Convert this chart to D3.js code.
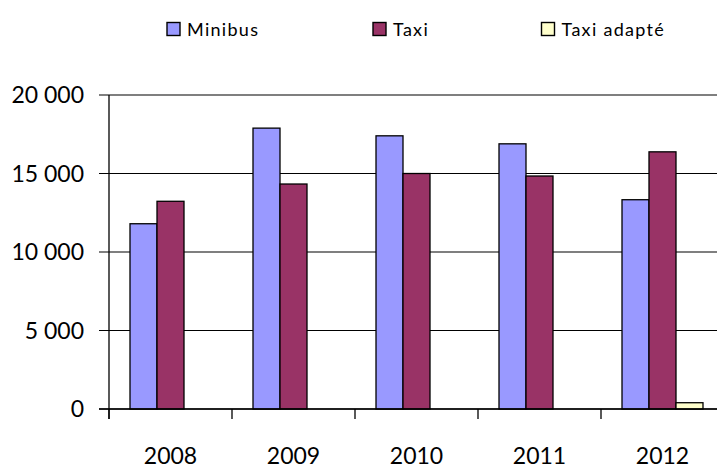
<!DOCTYPE html>
<html><head><meta charset="utf-8">
<script src="https://cdn.jsdelivr.net/npm/d3@7"></script>
<style>html,body{margin:0;padding:0;background:#fff;}svg{display:block;}</style>
</head><body>
<svg id="c" width="717" height="468"></svg>
<script>
const years = ["2008","2009","2010","2011","2012"];
const seriesNames = ["Minibus","Taxi","Taxi adapté"];
const minibus = [11800, 17890, 17400, 16890, 13330];
const taxi = [13230, 14330, 15000, 14840, 16380];
const taxiAdapte = [0, 0, 0, 0, 400];
const yTicks = [0, 5000, 10000, 15000, 20000];
const colors = ["#9999FF", "#993366", "#FFFFCC"];

const values = [minibus, taxi, taxiAdapte];
const svg = d3.select("#c");
const font = "Lato, 'Open Sans', sans-serif";

const x0 = d3.scaleBand().domain(years).range([109, 109 + 5*123]).paddingInner(0).paddingOuter(0);
const x1 = d3.scaleBand().domain(seriesNames).range([0, x0.bandwidth()]).paddingInner(0).paddingOuter(0.778);
const y = d3.scaleLinear().domain([0, 20000]).range([409, 95]);
const fmt = v => d3.format(",")(v).replace(/,/g, " ");

// gridlines
svg.append("g").selectAll("line").data(yTicks).join("line")
  .attr("x1", 99).attr("x2", 717)
  .attr("y1", d => y(d)).attr("y2", d => y(d))
  .attr("stroke", "#000").attr("stroke-width", 1.2);

// y labels
svg.append("g").selectAll("text").data(yTicks).join("text")
  .attr("x", 84).attr("y", d => y(d)).attr("dy", "0.36em")
  .attr("text-anchor", "end").attr("font-family", font).attr("font-size", 23)
  .attr("fill", "#000").text(fmt);

// bars
const g = svg.append("g");
seriesNames.forEach((s, si) => {
  g.append("g").selectAll("rect").data(years.map((yr, i) => ({yr, v: values[si][i]})).filter(d => d.v > 0))
    .join("rect")
    .attr("x", d => x0(d.yr) + x1(s))
    .attr("y", d => y(d.v))
    .attr("width", x1.bandwidth())
    .attr("height", d => y(0) - y(d.v))
    .attr("fill", colors[si]).attr("stroke", "#000").attr("stroke-width", 1.3);
});

// axes lines
svg.append("line").attr("x1", 109).attr("x2", 109).attr("y1", y(20000)).attr("y2", 419)
  .attr("stroke", "#000").attr("stroke-width", 1.3);
svg.append("line").attr("x1", 99).attr("x2", 717).attr("y1", y(0)).attr("y2", y(0))
  .attr("stroke", "#000").attr("stroke-width", 1.3);
// x ticks at category boundaries
svg.append("g").selectAll("line").data(years).join("line")
  .attr("x1", d => x0(d)).attr("x2", d => x0(d))
  .attr("y1", y(0)).attr("y2", 419)
  .attr("stroke", "#000").attr("stroke-width", 1.3);
// x labels
svg.append("g").selectAll("text").data(years).join("text")
  .attr("x", d => x0(d) + x0.bandwidth()/2).attr("y", 456).attr("dy", "0.36em")
  .attr("text-anchor", "middle").attr("font-family", font).attr("font-size", 23)
  .attr("fill", "#000").text(d => d);

// legend
const legX = [167, 373, 541.5];
const leg = svg.append("g");
seriesNames.forEach((s, i) => {
  leg.append("rect").attr("x", legX[i]).attr("y", 22.5).attr("width", 13).attr("height", 13)
    .attr("fill", colors[i]).attr("stroke", "#000").attr("stroke-width", 1.4);
  leg.append("text").attr("x", legX[i] + 20).attr("y", 35.5)
    .attr("font-family", font).attr("font-size", 18).attr("letter-spacing", 1.3)
    .attr("fill", "#000").text(s);
});
</script>
</body></html>
